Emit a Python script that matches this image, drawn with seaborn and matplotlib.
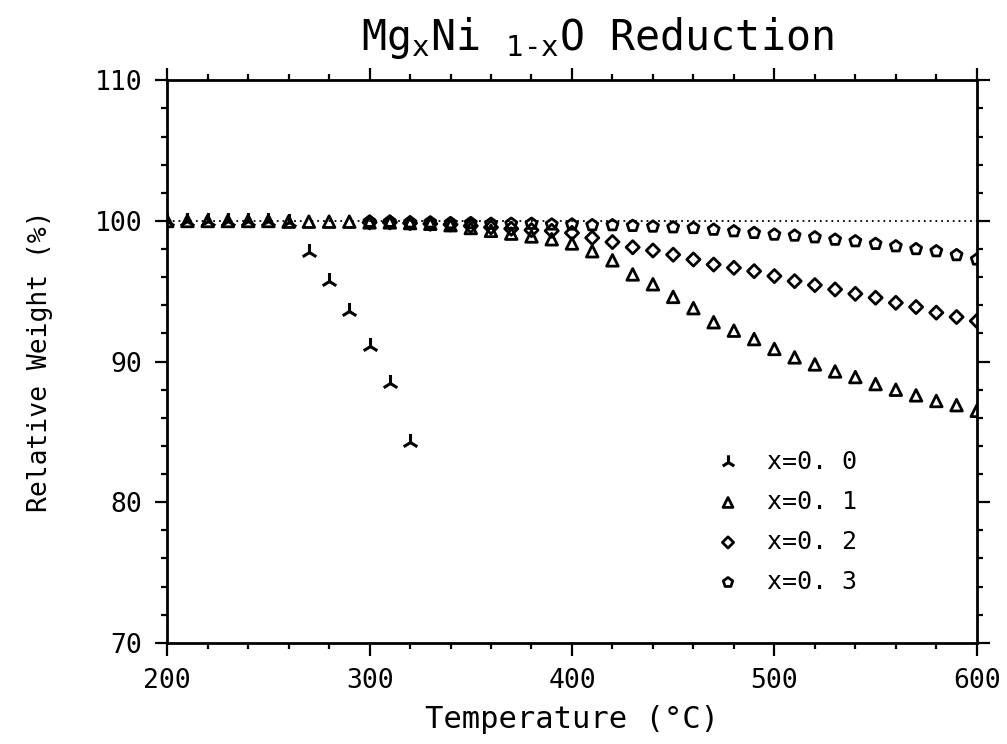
import matplotlib
matplotlib.use("Agg")
import matplotlib.pyplot as plt
import seaborn as sns
import numpy as np
import pandas as pd
from matplotlib.ticker import MultipleLocator

sns.set_style("ticks")
plt.rcParams['font.family'] = ['DejaVu Sans Mono', 'DejaVu Sans']
plt.rcParams['mathtext.fontset'] = 'custom'
plt.rcParams['mathtext.rm'] = 'DejaVu Sans Mono'
plt.rcParams['mathtext.it'] = 'DejaVu Sans Mono'
plt.rcParams['mathtext.default'] = 'regular'
for k in ['text.color', 'axes.labelcolor', 'xtick.color', 'ytick.color', 'axes.edgecolor']:
    plt.rcParams[k] = 'black'

# ---- data ----
temp_x00 = [200, 210, 220, 230, 240, 250, 260, 270, 280, 290, 300, 310, 320]
wt_x00 = [100.0, 100.0, 100.0, 100.0, 100.0, 100.0, 99.9, 97.8, 95.7, 93.6, 91.1, 88.5, 84.3]

temp_x01 = list(range(200, 601, 10))
wt_x01 = [100.0, 100.0, 100.0, 100.0, 100.0, 100.0, 99.95, 99.95, 99.95, 99.95,
          99.9, 99.9, 99.85, 99.8, 99.7, 99.5, 99.3, 99.1, 98.9, 98.7,
          98.4, 97.85, 97.2, 96.2, 95.5, 94.6, 93.8, 92.8, 92.2, 91.6,
          90.9, 90.3, 89.8, 89.3, 88.9, 88.4, 88.0, 87.6, 87.2, 86.9, 86.5]

temp_x02 = list(range(300, 601, 10))
wt_x02 = [99.9, 99.9, 99.85, 99.8, 99.75, 99.65, 99.55, 99.45, 99.35, 99.3,
          99.15, 98.8, 98.5, 98.13, 97.9, 97.6, 97.26, 96.9, 96.67, 96.43,
          96.08, 95.72, 95.44, 95.13, 94.82, 94.54, 94.18, 93.88, 93.48, 93.17, 92.89]

temp_x03 = list(range(300, 601, 10))
wt_x03 = [99.95, 99.95, 99.9, 99.9, 99.85, 99.85, 99.8, 99.8, 99.8, 99.75,
          99.75, 99.7, 99.7, 99.65, 99.6, 99.55, 99.5, 99.38, 99.27, 99.15,
          99.03, 98.96, 98.84, 98.67, 98.56, 98.37, 98.2, 98.0, 97.85, 97.57, 97.26]

labels = ["x=0. 0", "x=0. 1", "x=0. 2", "x=0. 3"]
x_ticks = [200, 300, 400, 500, 600]
y_ticks = [70, 80, 90, 100, 110]

fig = plt.figure(figsize=(10.07, 7.44), dpi=100)
ax = fig.add_axes([0.166, 0.136, 0.804, 0.756])

ax.axhline(100, color='black', linestyle=(0, (1, 2.2)), linewidth=1.3, zorder=1)

series = [
    (temp_x00, wt_x00, '2', labels[0], 150),
    (temp_x01, wt_x01, '^', labels[1], 70),
    (temp_x02, wt_x02, 'D', labels[2], 45),
    (temp_x03, wt_x03, 'p', labels[3], 70),
]
for tx, wy, mk, lab, sz in series:
    df = pd.DataFrame({"T": tx, "W": wy})
    if mk == '2':
        sns.scatterplot(data=df, x="T", y="W", marker=mk, s=sz, color='black',
                        linewidth=2.2, label=lab, ax=ax, zorder=3)
    else:
        sns.scatterplot(data=df, x="T", y="W", marker=mk, s=sz, facecolor='none',
                        edgecolor='black', linewidth=2.0, label=lab, ax=ax,
                        zorder=3)

ax.set_xlim(200, 600)
ax.set_ylim(70, 110)
ax.set_xticks(x_ticks)
ax.set_yticks(y_ticks)
ax.xaxis.set_minor_locator(MultipleLocator(20))
ax.yaxis.set_minor_locator(MultipleLocator(2))
ax.tick_params(which='both', direction='out', top=True, right=True,
               labelsize=19, width=1.6, color='black', pad=9)
ax.tick_params(which='major', length=9)
ax.tick_params(which='minor', length=4)
for sp in ax.spines.values():
    sp.set_linewidth(2)
    sp.set_color('black')

ax.set_xlabel("Temperature (°C)", fontsize=22, labelpad=8)
ax.set_ylabel("Relative Weight (%)", fontsize=19, labelpad=30)
ax.set_title(r"Mg$_x$Ni $_{1\text{-}x}$O Reduction", fontsize=30, pad=22, x=0.531)

leg = ax.legend(loc='upper left', bbox_to_anchor=(0.7006, 0.4086),
                bbox_transform=fig.transFigure, frameon=False,
                fontsize=18, labelspacing=0.64, handletextpad=1.06,
                handlelength=1.0, markerscale=0.85, borderaxespad=0)

fig.savefig("out.png", dpi=100)
